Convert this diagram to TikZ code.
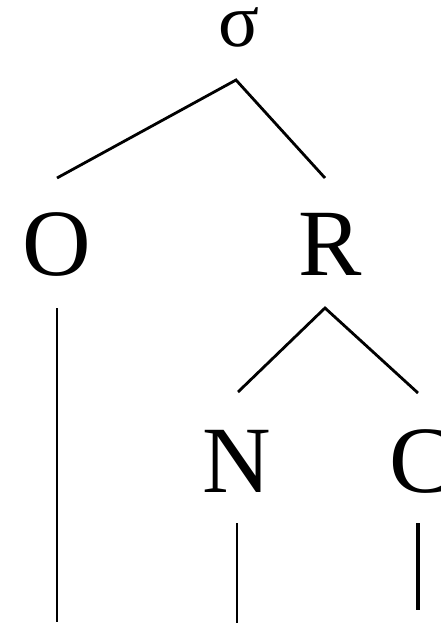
\documentclass[tikz,border=0pt]{standalone}
\usepackage{fontspec}
\setmainfont{Liberation Serif}
\begin{document}
\begin{tikzpicture}[x=1pt,y=-1pt,
  lab/.style={inner sep=0pt, anchor=base, font=\fontsize{95}{95}\selectfont},
  small lab/.style={inner sep=0pt, anchor=base, font=\fontsize{76}{76}\selectfont},
  edge/.style={line width=2.8pt},
  thick edge/.style={line width=4.2pt}]
\useasboundingbox (0,0) rectangle (441,626);
\clip (0,0) rectangle (441,626);
\node[small lab] (sigma) at (238.5,47) {σ};
\node[lab] (O) at (56.5,275) {O};
\node[lab] (R) at (330,275) {R};
\node[lab] (N) at (236.5,492) {N};
\node[lab] (C) at (421,492) {C};
\coordinate (sApex) at (236,80);
\coordinate (oTop) at (57,178);
\coordinate (rTop) at (325,178);
\coordinate (rApex) at (325,308);
\coordinate (nTop) at (238,392);
\coordinate (cTop) at (418,393);
\coordinate (oStart) at (57,308);
\coordinate (oEnd) at (57,622);
\coordinate (nStart) at (237,523);
\coordinate (nEnd) at (237,623);
\coordinate (cStart) at (418,523);
\coordinate (cEnd) at (418,610);
\draw[edge] (oTop) -- (sApex) -- (rTop);
\draw[edge] (nTop) -- (rApex) -- (cTop);
\draw[edge] (oStart) -- (oEnd);
\draw[edge] (nStart) -- (nEnd);
\draw[thick edge] (cStart) -- (cEnd);
\end{tikzpicture}
\end{document}
